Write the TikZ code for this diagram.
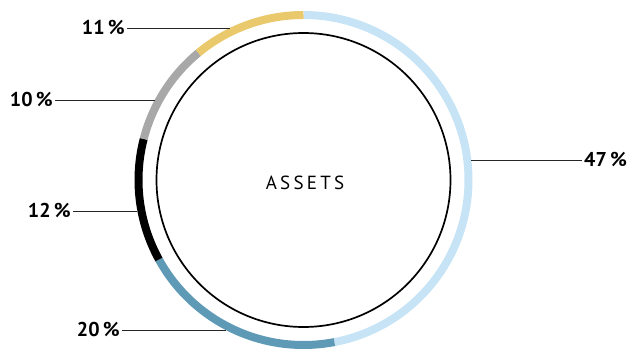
\documentclass[tikz,border=0pt]{standalone}
\usepackage{fontspec}
\setmainfont{PT Sans}

\definecolor{shareA}{HTML}{C6E4F6}
\definecolor{shareB}{HTML}{5E9AB6}
\definecolor{shareC}{HTML}{000000}
\definecolor{shareD}{HTML}{A8A8A8}
\definecolor{shareE}{HTML}{E9C96B}

\tikzset{
    ring/.style={line width=8pt},
    leader/.style={draw=black!85, line width=0.8pt},
    pct/.style={font=\fontsize{20}{20}\selectfont\bfseries, inner xsep=2pt, inner ysep=0pt,
                text height=13pt, text depth=0pt}
}

\begin{document}
\begin{tikzpicture}[x=1pt, y=1pt]

    % Canvas
    \useasboundingbox (0,0) rectangle (630,349);

    \coordinate (c) at (303.5,169);

    % Share ring, clockwise from the top
    \foreach \a/\b/\col in {90/-79.2/shareA, -79.2/-151.2/shareB,
                            -151.2/-194.4/shareC, -194.4/-230.4/shareD,
                            -230.4/-270/shareE}
        \draw[ring, \col] (c) ++(\a:165) arc[start angle=\a, end angle=\b, radius=165];

    % Inner circle
    \draw[line width=1.7pt] (c) circle[radius=147];
    \node[font=\fontsize{19}{19}\selectfont\addfontfeatures{LetterSpace=17}] (title) at (305,166) {ASSETS};

    % Labels
    \node[pct, anchor=west] (l47) at (582,189) {47\,\%};
    \node[pct, anchor=east] (l20) at (122,19) {20\,\%};
    \node[pct, anchor=east] (l12) at (73,138) {12\,\%};
    \node[pct, anchor=east] (l10) at (55,249) {10\,\%};
    \node[pct, anchor=east] (l11) at (127,321) {11\,\%};

    % Points on the ring
    \coordinate (p47) at (471.3,189);
    \coordinate (p20) at (225.7,19);
    \coordinate (p12) at (137.4,138);
    \coordinate (p10) at (154.6,249);
    \coordinate (p11) at (229.6,321);

    % Leader lines
    \draw[leader] (l47) -- (p47);
    \draw[leader] (l20) -- (p20);
    \draw[leader] (l12) -- (p12);
    \draw[leader] (l10) -- (p10);
    \draw[leader] (l11) -- (p11);

\end{tikzpicture}
\end{document}
